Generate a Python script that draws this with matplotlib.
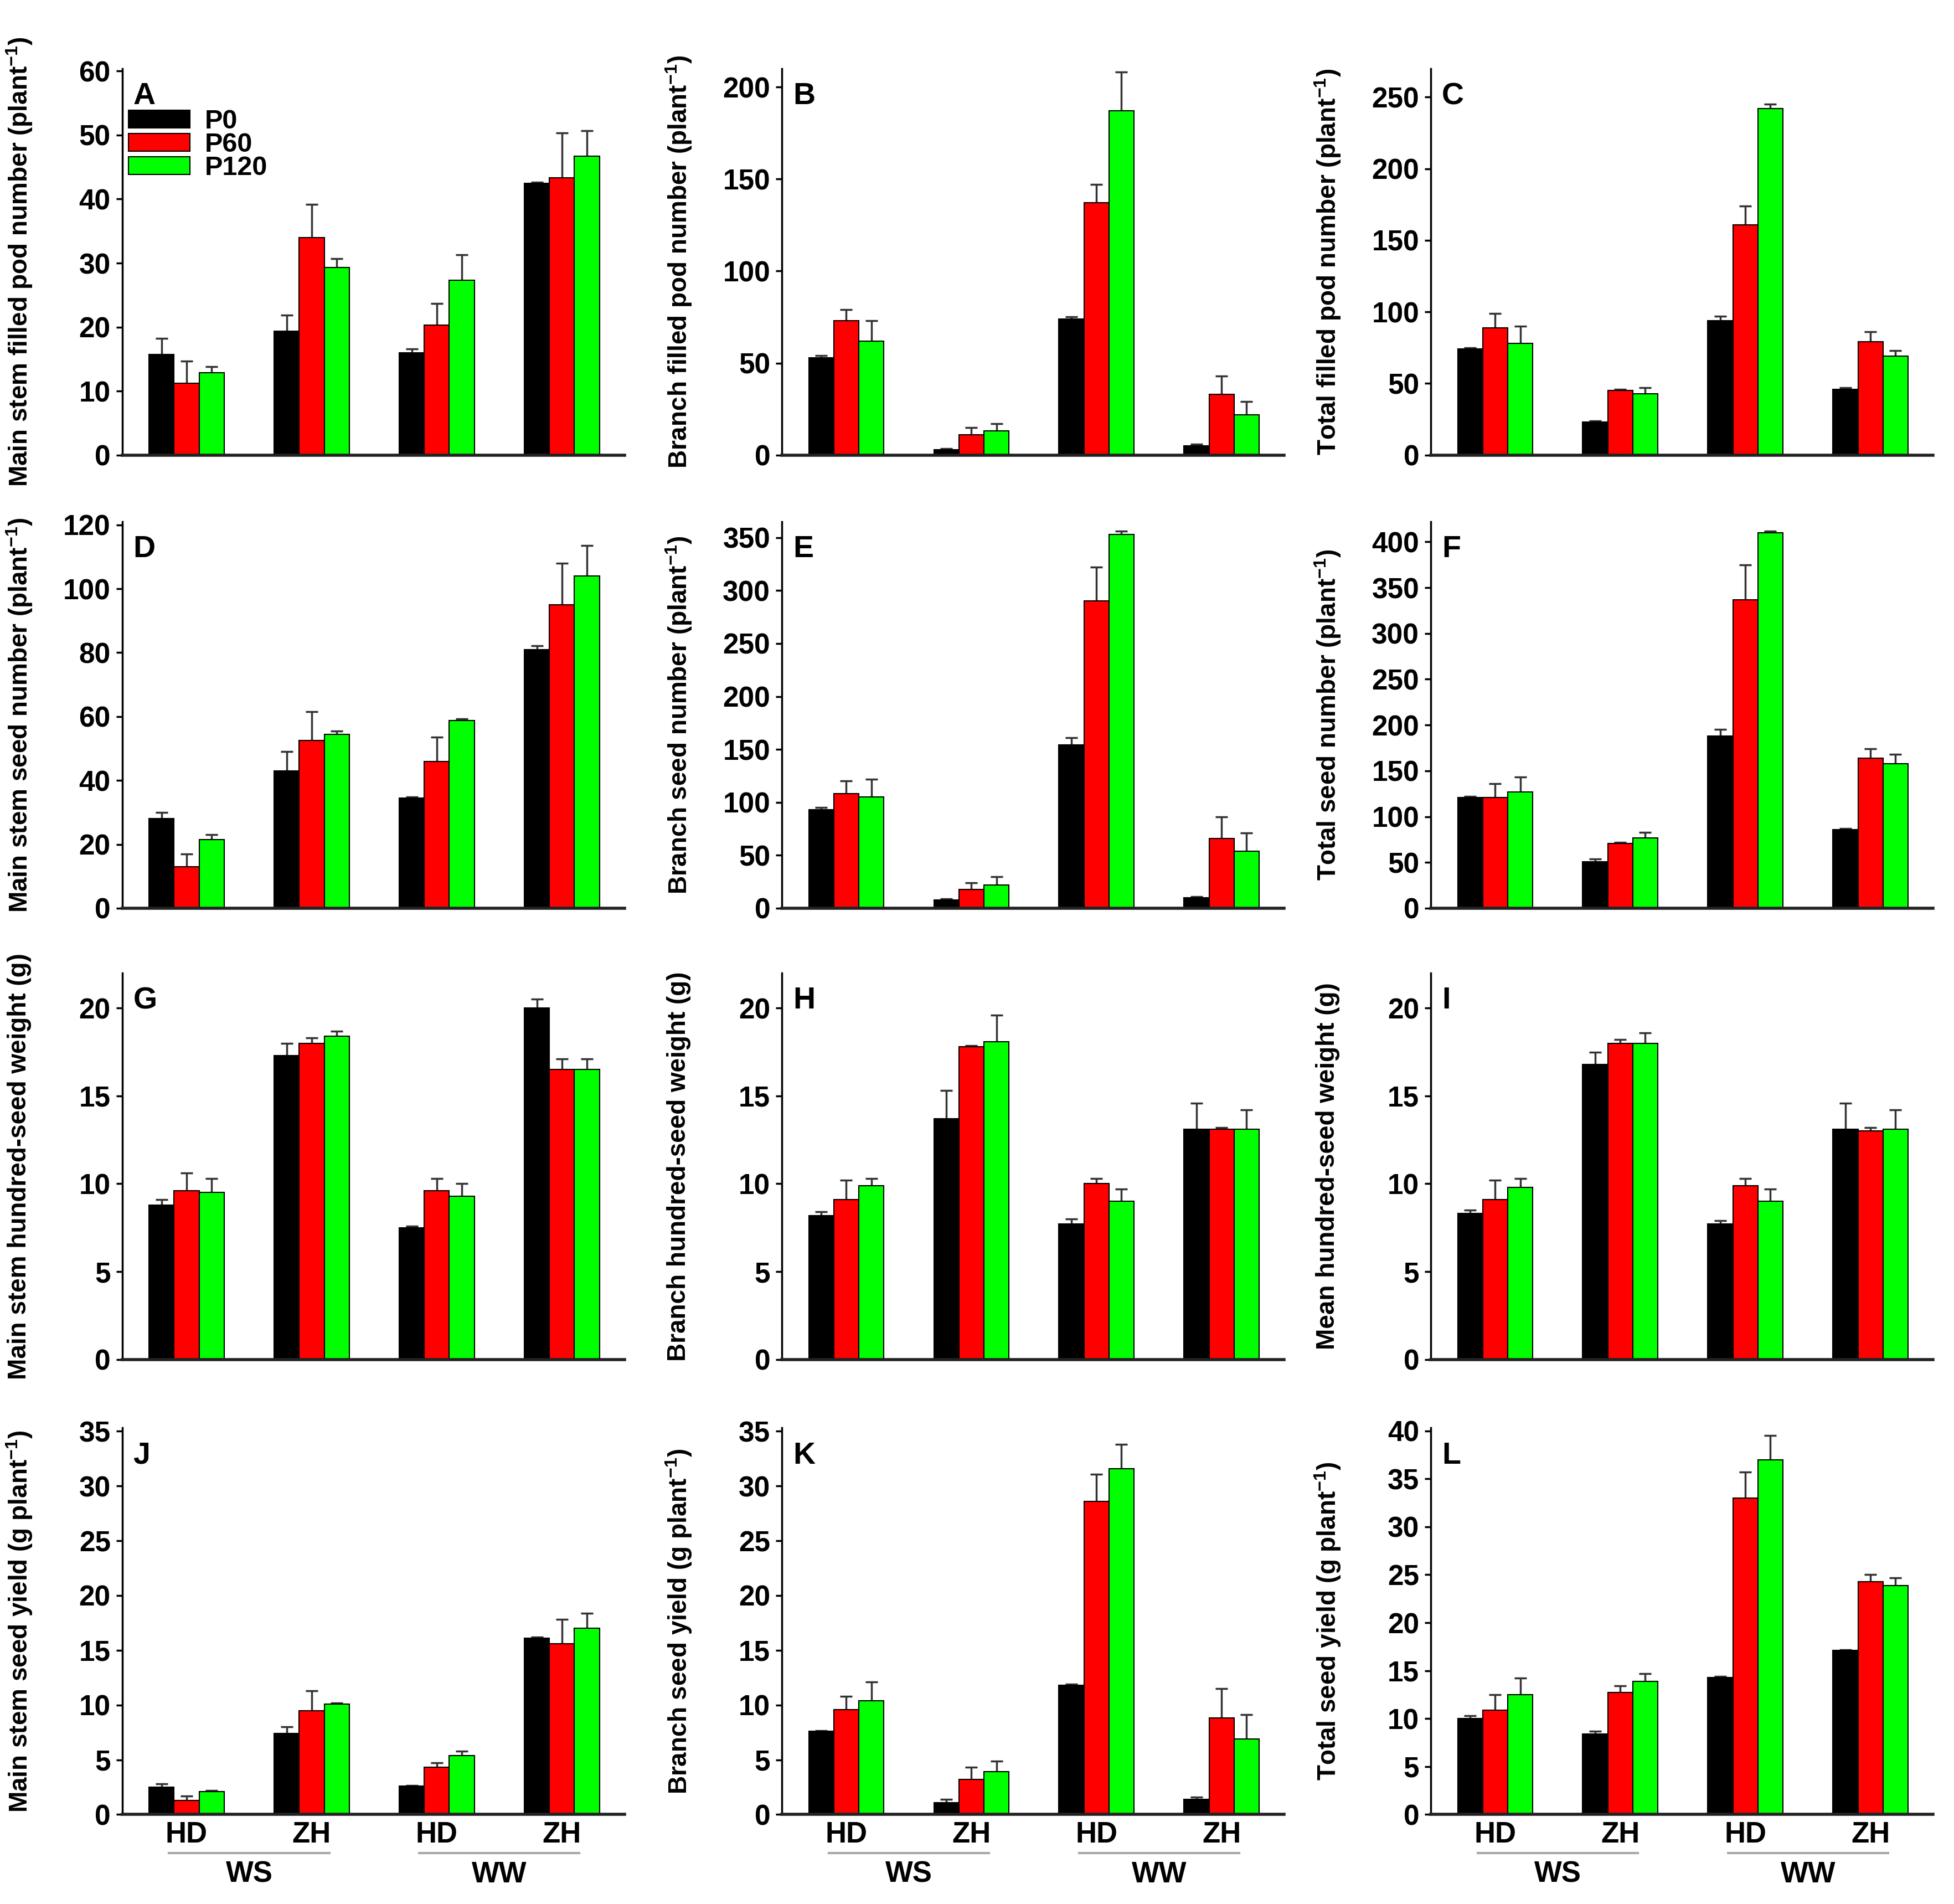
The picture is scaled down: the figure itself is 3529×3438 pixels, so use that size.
import numpy as np
import matplotlib.pyplot as plt
import matplotlib.transforms as mtransforms

plt.rcParams['font.family'] = ['Liberation Sans Narrow', 'Liberation Sans', 'DejaVu Sans']
plt.rcParams['font.weight'] = 'bold'
plt.rcParams['mathtext.fontset'] = 'custom'
plt.rcParams['mathtext.rm'] = 'Liberation Sans:bold'
plt.rcParams['mathtext.bf'] = 'Liberation Sans:bold'

cultivars = ['HD', 'ZH', 'HD', 'ZH']
water = ['WS', 'WW']
treatments = ['P0', 'P60', 'P120']
colors = ['#000000', '#ff0000', '#00ff00']

# rows of each list: P0, P60, P120 ; columns: WS-HD, WS-ZH, WW-HD, WW-ZH
a_mean = [[15.7, 19.4, 16.0, 42.5], [11.2, 34.0, 20.3, 43.3], [12.9, 29.3, 27.3, 46.7]]
a_err = [[2.5, 2.5, 0.6, 0.1], [3.5, 5.2, 3.4, 7.0], [0.9, 1.4, 4.0, 4.0]]
b_mean = [[53, 3, 74, 5], [73, 11, 137, 33], [62, 13, 187, 22]]
b_err = [[1, 0.5, 1, 1], [6, 4, 10, 10], [11, 4, 21, 7]]
c_mean = [[74, 23, 94, 46], [89, 45, 161, 79], [78, 43, 242, 69]]
c_err = [[1, 1, 3, 1], [10, 1, 13, 7], [12, 4, 3, 4]]

d_mean = [[28, 43, 34.5, 81], [13, 52.5, 46, 95], [21.5, 54.5, 58.8, 104]]
d_err = [[2, 6, 0.3, 1.2], [4, 9, 7.5, 13], [1.5, 1, 0.5, 9.5]]
e_mean = [[93, 8, 154, 10], [108, 18, 290, 66], [105, 22, 353, 54]]
e_err = [[2, 1, 7, 1], [12, 6, 32, 20], [17, 8, 3, 17]]
f_mean = [[121, 51, 188, 86], [121, 71, 337, 164], [127, 77, 410, 158]]
f_err = [[1, 3, 7, 1], [15, 1, 38, 10], [16, 6, 2, 10]]

g_mean = [[8.8, 17.3, 7.5, 20.0], [9.6, 18.0, 9.6, 16.5], [9.5, 18.4, 9.3, 16.5]]
g_err = [[0.3, 0.7, 0.1, 0.5], [1.0, 0.3, 0.7, 0.6], [0.8, 0.3, 0.7, 0.6]]
h_mean = [[8.2, 13.7, 7.7, 13.1], [9.1, 17.8, 10.0, 13.1], [9.9, 18.1, 9.0, 13.1]]
h_err = [[0.2, 1.6, 0.3, 1.5], [1.1, 0.05, 0.3, 0.1], [0.4, 1.5, 0.7, 1.1]]
i_mean = [[8.3, 16.8, 7.7, 13.1], [9.1, 18.0, 9.9, 13.0], [9.8, 18.0, 9.0, 13.1]]
i_err = [[0.2, 0.7, 0.2, 1.5], [1.1, 0.2, 0.4, 0.2], [0.5, 0.6, 0.7, 1.1]]

j_mean = [[2.5, 7.4, 2.6, 16.1], [1.3, 9.5, 4.3, 15.6], [2.1, 10.1, 5.4, 17.0]]
j_err = [[0.3, 0.6, 0.05, 0.1], [0.4, 1.8, 0.4, 2.2], [0.1, 0.1, 0.4, 1.4]]
k_mean = [[7.6, 1.1, 11.8, 1.4], [9.6, 3.2, 28.6, 8.8], [10.4, 3.9, 31.6, 6.9]]
k_err = [[0.05, 0.3, 0.1, 0.2], [1.2, 1.1, 2.5, 2.7], [1.7, 1.0, 2.2, 2.2]]
l_mean = [[10.0, 8.4, 14.3, 17.1], [10.9, 12.7, 33.0, 24.3], [12.5, 13.9, 37.0, 23.9]]
l_err = [[0.3, 0.3, 0.1, 0.05], [1.6, 0.7, 2.7, 0.7], [1.7, 0.8, 2.5, 0.8]]

panels = [
    ('A', a_mean, a_err, 'Main stem filled pod number (plant$^{-1}$)', 60.4, 10),
    ('B', b_mean, b_err, 'Branch filled pod number (plant$^{-1}$)', 210, 50),
    ('C', c_mean, c_err, 'Total filled pod number (plant$^{-1}$)', 270, 50),
    ('D', d_mean, d_err, 'Main stem seed number (plant$^{-1}$)', 121, 20),
    ('E', e_mean, e_err, 'Branch seed number (plant$^{-1}$)', 365, 50),
    ('F', f_mean, f_err, 'Total seed number (plant$^{-1}$)', 422, 50),
    ('G', g_mean, g_err, 'Main stem hundred-seed weight (g)', 22, 5),
    ('H', h_mean, h_err, 'Branch hundred-seed weight (g)', 22, 5),
    ('I', i_mean, i_err, 'Mean hundred-seed weight (g)', 22, 5),
    ('J', j_mean, j_err, 'Main stem seed yield (g plant$^{-1}$)', 35.3, 5),
    ('K', k_mean, k_err, 'Branch seed yield (g plant$^{-1}$)', 35.3, 5),
    ('L', l_mean, l_err, 'Total seed yield (g plant$^{-1}$)', 40.3, 5),
]

fig = plt.figure(figsize=(35.3, 34.38), dpi=100)
lefts = [0.0625, 0.400, 0.732]
bottoms = [0.761, 0.523, 0.286, 0.047]
w, h = 0.257, 0.203

x = np.arange(4)
bw = 0.2

for n, (letter, mean, err, ylab, ymax, step) in enumerate(panels):
    row, col = divmod(n, 3)
    ax = fig.add_axes([lefts[col], bottoms[row], w, h])
    for k in range(3):
        xs = x + (k - 1) * bw
        ax.bar(xs, mean[k], bw, color=colors[k], edgecolor='black', linewidth=1.5,
               label=treatments[k], zorder=2)
        eb = ax.errorbar(xs, mean[k], yerr=[np.zeros(4), err[k]], fmt='none',
                         ecolor='#333333', elinewidth=2.5, capsize=8, capthick=2.5, zorder=1)
        caps = eb[1]
        if len(caps) == 2:
            caps[0].set_visible(False)

    ax.set_xlim(-0.515, 3.5)
    ax.set_ylim(0, ymax)
    ax.set_yticks(np.arange(0, ymax + 0.01, step))
    ax.spines['top'].set_visible(False)
    ax.spines['right'].set_visible(False)
    ax.spines['left'].set_linewidth(2.5)
    ax.spines['bottom'].set_linewidth(4)
    ax.spines['bottom'].set_color('#222222')
    ax.tick_params(axis='y', direction='out', length=8, width=2.5, pad=7, labelsize=37)
    ax.tick_params(axis='x', length=0, pad=8, labelsize=38)
    ax.set_xticks(x)
    ax.set_ylabel(ylab, fontsize=33, fontweight='bold', family='Liberation Sans', va='center')
    ax.yaxis.set_label_coords(-0.205, 0.5)
    ax.text(0.022, 0.965, letter, transform=ax.transAxes, ha='left', va='top', fontsize=40)

    if row == 3:
        ax.set_xticklabels(cultivars)
        trans = mtransforms.blended_transform_factory(ax.transData, ax.transAxes)
        for g in range(2):
            x0, x1 = x[2 * g], x[2 * g + 1]
            ax.plot([x0 - 0.14, x1 + 0.14], [-0.099, -0.099], transform=trans,
                    clip_on=False, color='#a8a8a8', lw=3)
            ax.text((x0 + x1) / 2, -0.155, water[g], transform=trans,
                    ha='center', va='center', fontsize=38)
    else:
        ax.set_xticklabels([])

    if letter == 'A':
        ax.legend(loc='upper left', bbox_to_anchor=(0.012, 0.895), frameon=False,
                  fontsize=35, handlelength=2.3, handleheight=0.65, handletextpad=0.55,
                  labelspacing=-0.06, borderaxespad=0, borderpad=0)

fig.savefig('out.png', dpi=100)
